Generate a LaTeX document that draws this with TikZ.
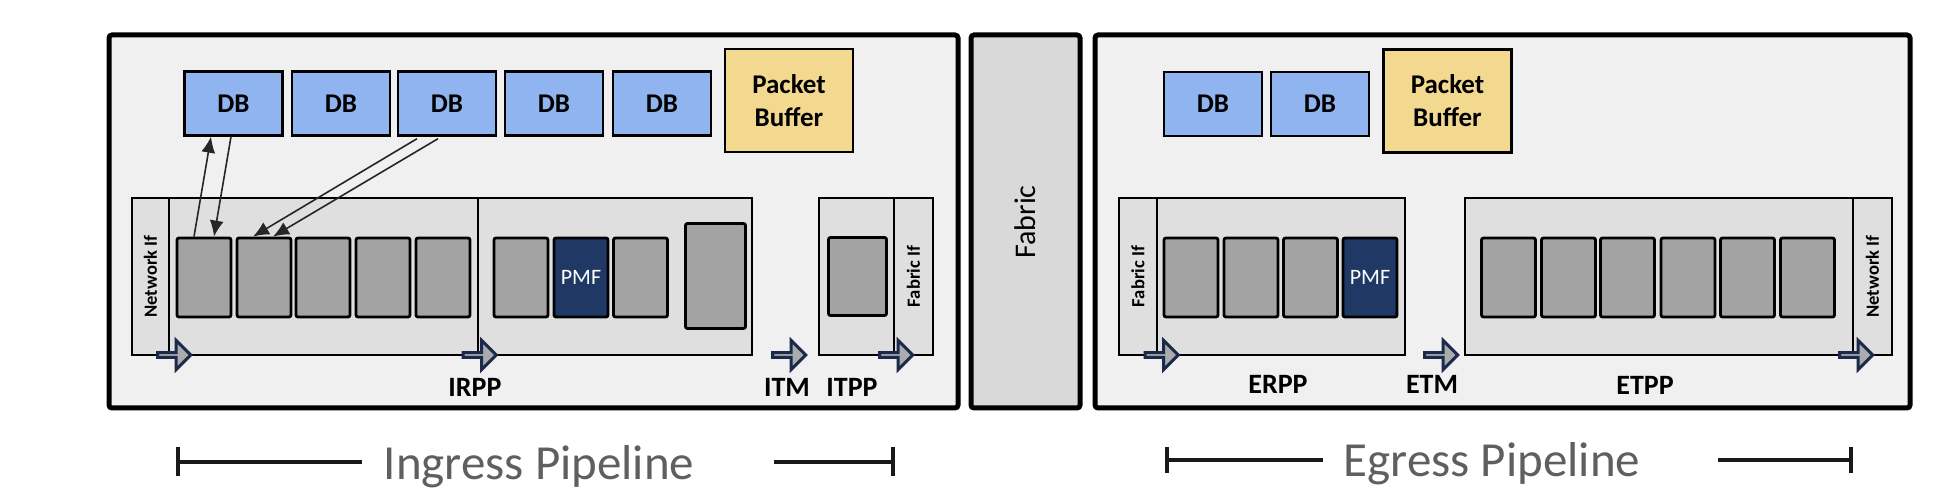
\documentclass[tikz,border=0pt]{standalone}
\usepackage{fontspec}
\setmainfont{Carlito}
\usetikzlibrary{shapes.arrows,arrows.meta,calc}
\definecolor{chipbg}{HTML}{F0F0F0}
\definecolor{fabricbg}{HTML}{D9D9D9}
\definecolor{stagebg}{HTML}{DFDFDF}
\definecolor{blockbg}{HTML}{A3A3A3}
\definecolor{pmfblue}{HTML}{203864}
\definecolor{dbblue}{HTML}{8FB4F0}
\definecolor{bufyellow}{HTML}{F2D98F}
\definecolor{flowfill}{HTML}{ABABAB}
\definecolor{flowline}{HTML}{1B2A4A}
\definecolor{pipegray}{HTML}{5F5F5F}

\begin{document}
\begin{tikzpicture}[x=0.5pt,y=-0.5pt]
\tikzstyle{chip}=[draw,line width=2.5pt,fill=chipbg,rounded corners=1.5pt,inner sep=0pt,minimum height=186.5pt]
\tikzstyle{stage}=[draw,line width=1.2pt,fill=stagebg,inner sep=0pt,minimum height=78.5pt]
\tikzstyle{block}=[draw,line width=1.4pt,fill=blockbg,rounded corners=1pt,inner sep=0pt,minimum width=27pt,minimum height=39.5pt]
\tikzstyle{pmf}=[block,fill=pmfblue,text=white,font=\fontsize{11}{11}\selectfont]
\tikzstyle{db}=[draw,line width=1.2pt,fill=dbblue,minimum width=49pt,minimum height=32pt,font=\bfseries\fontsize{13.5}{14}\selectfont]
\tikzstyle{buffer}=[draw,line width=1.2pt,fill=bufyellow,minimum width=64pt,minimum height=51.5pt,align=center,font=\bfseries\fontsize{13.5}{16.5}\selectfont]
\tikzstyle{flow}=[single arrow,draw=flowline,fill=flowfill,line width=1.5pt,minimum height=16.5pt,minimum width=14.5pt,single arrow head extend=3.8pt,single arrow head indent=0pt,inner sep=0pt]
\tikzstyle{stagename}=[font=\bfseries\fontsize{14}{14}\selectfont,inner sep=0pt]
\tikzstyle{ifname}=[rotate=90,font=\bfseries\fontsize{9.3}{9.3}\selectfont,inner sep=0pt]
\tikzstyle{lookup}=[-{Latex[length=8pt,width=7pt]},line width=0.8pt,draw=black!85]
\tikzstyle{span}=[line width=2pt,draw=black!90]
\tikzstyle{spanname}=[text=pipegray,font=\fontsize{24.5}{25}\selectfont,inner sep=0pt,anchor=base]
\useasboundingbox (0,0) rectangle (1950,501);

% chips and fabric
\node[chip,minimum width=424.5pt] (ingress) at (533.5,221.5) {};
\node[chip,fill=fabricbg,minimum width=54.5pt] (fabric) at (1025.5,221.5) {};
\node[chip,minimum width=407.5pt] (egress) at (1502.5,221.5) {};
\node[rotate=90,font=\fontsize{15}{15}\selectfont,inner sep=0pt] (fabricname) at (1025,222) {Fabric};

% databases and buffers
\foreach \x [count=\i] in {233.5,341,447,554,662}
  \node[db] (idb\i) at (\x,103.5) {DB};
\node[buffer] (ibuf) at (789,100.5) {Packet\\Buffer};
\node[db] (edb1) at (1213,104) {DB};
\node[db] (edb2) at (1320,104) {DB};
\node[buffer] (ebuf) at (1447.5,101) {Packet\\Buffer};

% ingress stages
\node[stage,minimum width=173pt] (irppa) at (305,276.5) {};
\node[stage,minimum width=137pt] (irppb) at (615,276.5) {};
\node[stage,minimum width=18.5pt] (inif) at (150.5,276.5) {};
\node[ifname] (iniftxt) at (inif) {Network If};
\node[stage,minimum width=37.5pt] (itpp) at (856.5,276.5) {};
\node[stage,minimum width=19.5pt] (ifif) at (913.5,276.5) {};
\node[ifname] (ififtxt) at (ifif) {Fabric If};
\foreach \x [count=\i] in {204,264,323,383,443,521}
  \node[block] (ib\i) at (\x,277.5) {};
\node[pmf] (ipmf) at (581,277.5) {PMF};
\node[block] (ib7) at (640.5,277.5) {};
\node[block,minimum width=30pt,minimum height=52.5pt] (ib8) at (715.5,276) {};
\node[block,minimum width=29pt,minimum height=39pt] (itb) at (857.5,276.5) {};

% egress stages
\node[stage,minimum width=143pt] (erpp) at (1262,276.5) {};
\node[stage,minimum width=19pt] (efif) at (1138,276.5) {};
\node[ifname] (efiftxt) at (efif) {Fabric If};
\node[stage,minimum width=213.5pt] (etpp) at (1678.5,276.5) {};
\node[stage,minimum width=19.5pt] (enif) at (1872.5,276.5) {};
\node[ifname] (eniftxt) at (enif) {Network If};
\foreach \x [count=\i] in {1191,1251,1310.5}
  \node[block] (eb\i) at (\x,277.5) {};
\node[pmf] (epmf) at (1370,277.5) {PMF};
\foreach \x [count=\i] in {1508.5,1568.5,1627.5,1688,1747.5,1807.5}
  \node[block] (et\i) at (\x,277.5) {};

% packet flow
\foreach \x [count=\i] in {173,478.5,788,895,1160.5,1440,1855}
  \node[flow] (flow\i) at (\x,355) {};

\node[stagename] (irppname) at (475,387) {IRPP};
\node[stagename] (itmname) at (787,387) {ITM};
\node[stagename] (itppname) at (852,387) {ITPP};
\node[stagename] (erppname) at (1278,384) {ERPP};
\node[stagename] (etmname) at (1432,384) {ETM};
\node[stagename] (etppname) at (1645,385) {ETPP};

% table lookups
\draw[lookup] ($(ib1.north)+(-10,0)$) -- ($(idb1.south)+(-22.5,0)$);
\draw[lookup] ($(idb1.south)+(-2.5,0)$) -- ($(ib1.north)+(10,0)$);
\draw[lookup] ($(idb3.south)+(-30,2)$) -- ($(ib2.north)+(-11,0)$);
\draw[lookup] ($(idb3.south)+(-9,2)$) -- ($(ib2.north)+(9,0)$);

% pipeline spans
\node[spanname] (ingname) at (539,480) {Ingress Pipeline};
\node[spanname] (egrname) at (1492,477) {Egress Pipeline};
\coordinate (ingl) at (176,462);
\coordinate (ingla) at (362,462);
\coordinate (ingra) at (774,462);
\coordinate (ingr) at (895,462);
\coordinate (egrl) at (1165,460);
\coordinate (egrla) at (1323,460);
\coordinate (egrra) at (1718,460);
\coordinate (egrr) at (1853,460);
\draw[span,{Bar[width=14.5pt]}-] (ingl) -- (ingla);
\draw[span,-{Bar[width=14.5pt]}] (ingra) -- (ingr);
\draw[span,{Bar[width=13pt]}-] (egrl) -- (egrla);
\draw[span,-{Bar[width=13pt]}] (egrra) -- (egrr);
\end{tikzpicture}
\end{document}
